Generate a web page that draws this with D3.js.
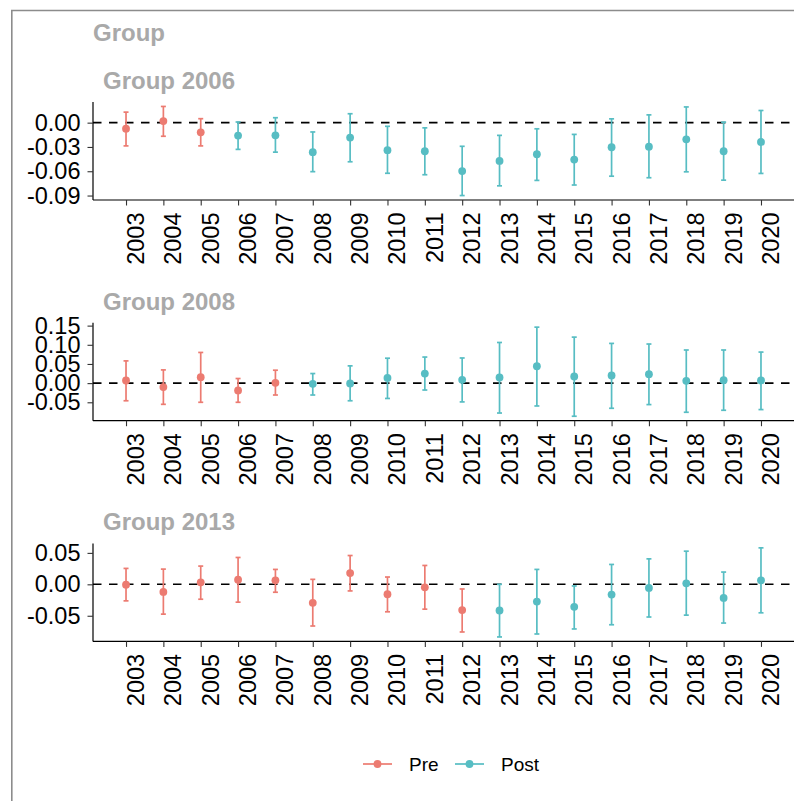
<!DOCTYPE html>
<html>
<head>
<meta charset="utf-8">
<script src="https://cdn.jsdelivr.net/npm/d3@7"></script>
<style>
  html, body { margin: 0; padding: 0; background: #fff; }
  svg { display: block; font-family: "Liberation Sans", Arial, sans-serif; }
</style>
</head>
<body>
<svg id="chart" width="794" height="801"></svg>
<script>
// Event-study estimates by treatment cohort
const years = [2003, 2004, 2005, 2006, 2007, 2008, 2009, 2010, 2011,
               2012, 2013, 2014, 2015, 2016, 2017, 2018, 2019, 2020];
const groups = [2006, 2008, 2013];

const est2006 = [-0.0074, 0.0020, -0.0119, -0.0160, -0.0156, -0.0364, -0.0184, -0.0340, -0.0353,
                 -0.0598, -0.0472, -0.0390, -0.0456, -0.0304, -0.0296, -0.0206, -0.0353, -0.0239];
const lo2006  = [-0.0287, -0.0168, -0.0287, -0.0330, -0.0364, -0.0605, -0.0483, -0.0625, -0.0643,
                 -0.0900, -0.0780, -0.0713, -0.0770, -0.0661, -0.0680, -0.0607, -0.0710, -0.0627];
const hi2006  = [0.0130, 0.0200, 0.0049, 0.0008, 0.0061, -0.0115, 0.0110, -0.0045, -0.0064,
                 -0.0292, -0.0157, -0.0076, -0.0145, 0.0047, 0.0096, 0.0194, 0.0006, 0.0150];

const est2008 = [0.0069, -0.0104, 0.0155, -0.0190, 0.0008, -0.0018, -0.0009, 0.0135, 0.0250,
                 0.0086, 0.0147, 0.0440, 0.0173, 0.0199, 0.0233, 0.0060, 0.0078, 0.0070];
const lo2008  = [-0.0460, -0.0553, -0.0500, -0.0500, -0.0310, -0.0310, -0.0460, -0.0400, -0.0180,
                 -0.0490, -0.0780, -0.0596, -0.0864, -0.0656, -0.0560, -0.0760, -0.0708, -0.0690];
const hi2008  = [0.0580, 0.0345, 0.0800, 0.0120, 0.0337, 0.0250, 0.0450, 0.0650, 0.0680,
                 0.0656, 0.1060, 0.1460, 0.1200, 0.1036, 0.1020, 0.0864, 0.0864, 0.0810];

const est2013 = [-0.0005, -0.0121, 0.0032, 0.0074, 0.0063, -0.0295, 0.0179, -0.0158, -0.0047,
                 -0.0410, -0.0416, -0.0274, -0.0358, -0.0163, -0.0058, 0.0016, -0.0216, 0.0063];
const lo2013  = [-0.0263, -0.0474, -0.0237, -0.0284, -0.0126, -0.0663, -0.0105, -0.0437, -0.0395,
                 -0.0758, -0.0837, -0.0790, -0.0710, -0.0643, -0.0520, -0.0490, -0.0616, -0.0453];
const hi2013  = [0.0253, 0.0242, 0.0290, 0.0427, 0.0237, 0.0079, 0.0458, 0.0116, 0.0300,
                 -0.0074, 0.0000, 0.0237, -0.0026, 0.0316, 0.0405, 0.0527, 0.0195, 0.0580];

const yTicks = [
  [0, -0.03, -0.06, -0.09],
  [-0.05, 0, 0.05, 0.10, 0.15],
  [-0.05, 0, 0.05]
];
const periods = ["Pre", "Post"];

const series = [
  { group: groups[0], est: est2006, lo: lo2006, hi: hi2006 },
  { group: groups[1], est: est2008, lo: lo2008, hi: hi2008 },
  { group: groups[2], est: est2013, lo: lo2013, hi: hi2013 }
];

const svg = d3.select("#chart");
const color = d3.scaleOrdinal().domain(periods).range(["#ec7b71", "#57bdc3"]);
const grey = "#a9a9a9";

// outer frame
svg.append("path")
  .attr("d", "M11.8,801 L11.8,10.5 L794,10.5")
  .attr("fill", "none").attr("stroke", "#8c8c8c").attr("stroke-width", 1.6);

svg.append("text")
  .attr("x", 93).attr("y", 41)
  .attr("fill", grey).attr("font-size", 24).attr("font-weight", "bold")
  .text("Group");

const left = 93, right = 794, panelH = 98;
const x = d3.scalePoint().domain(years).range([left, right]).padding(0.884);
const fmt = v => d3.format(".2f")(v).replace("\u2212", "-");

series.forEach((s, i) => {
  const top = 102 + i * 220.7;
  const bottom = top + panelH;
  const rows = years.map((yr, j) => ({
    year: yr, est: s.est[j], lo: s.lo[j], hi: s.hi[j],
    period: yr < s.group ? "Pre" : "Post"
  }));
  const mn = d3.min(rows, d => d.lo), mx = d3.max(rows, d => d.hi);
  const pad = (mx - mn) * 0.05;
  const y = d3.scaleLinear().domain([mn - pad, mx + pad]).range([bottom, top]);

  const g = svg.append("g");

  g.append("text")
    .attr("x", left + 10).attr("y", top - 13)
    .attr("fill", grey).attr("font-size", 24).attr("font-weight", "bold")
    .text("Group " + s.group);

  // y axis
  const yAxis = g.append("g").attr("transform", `translate(${left},0)`)
    .call(d3.axisLeft(y).tickValues(yTicks[i]).tickFormat(fmt).tickSize(5.5).tickPadding(7));
  yAxis.select(".domain").attr("d", `M0,${top}V${bottom}`).attr("stroke", "#000").attr("stroke-width", 1.2);
  yAxis.selectAll(".tick line").attr("stroke", "#333").attr("stroke-width", 1.1);
  yAxis.selectAll(".tick text").attr("font-size", 23.5).attr("fill", "#000")
    .attr("font-family", "Liberation Sans, Arial, sans-serif");

  // x axis
  const xAxis = g.append("g").attr("transform", `translate(0,${bottom})`)
    .call(d3.axisBottom(x).tickSize(5.5).tickSizeOuter(0));
  xAxis.select(".domain").attr("d", `M${left},0H${right}`).attr("stroke", "#000").attr("stroke-width", 1.2);
  xAxis.selectAll(".tick line").attr("stroke", "#333").attr("stroke-width", 1.1);
  xAxis.selectAll(".tick text")
    .attr("font-size", 23.5).attr("fill", "#000")
    .attr("font-family", "Liberation Sans, Arial, sans-serif")
    .attr("text-anchor", "end")
    .attr("dy", null).attr("y", null)
    .attr("transform", "translate(17.5,12.5) rotate(-90)");

  // reference line at zero
  g.append("line")
    .attr("x1", left).attr("x2", right)
    .attr("y1", y(0)).attr("y2", y(0))
    .attr("stroke", "#000").attr("stroke-width", 1.6).attr("stroke-dasharray", "8.5,7.5");

  // confidence intervals
  const bars = g.selectAll(".ci").data(rows).join("g").attr("class", "ci")
    .attr("stroke", d => color(d.period)).attr("stroke-width", 1.7);
  bars.append("line")
    .attr("x1", d => x(d.year)).attr("x2", d => x(d.year))
    .attr("y1", d => y(d.lo)).attr("y2", d => y(d.hi));
  bars.append("line")
    .attr("x1", d => x(d.year) - 2.5).attr("x2", d => x(d.year) + 2.5)
    .attr("y1", d => y(d.lo)).attr("y2", d => y(d.lo));
  bars.append("line")
    .attr("x1", d => x(d.year) - 2.5).attr("x2", d => x(d.year) + 2.5)
    .attr("y1", d => y(d.hi)).attr("y2", d => y(d.hi));

  // point estimates
  g.selectAll(".pt").data(rows).join("circle").attr("class", "pt")
    .attr("cx", d => x(d.year)).attr("cy", d => y(d.est)).attr("r", 3.9)
    .attr("fill", d => color(d.period));
});

// legend
const legX = d3.scaleOrdinal().domain(periods).range([363, 455]);
const leg = svg.append("g").selectAll("g").data(periods).join("g")
  .attr("transform", d => `translate(${legX(d)},764)`);
leg.append("line").attr("x1", 0).attr("x2", 29).attr("y1", 0).attr("y2", 0)
  .attr("stroke", d => color(d)).attr("stroke-width", 1.7);
leg.append("circle").attr("cx", 14.5).attr("cy", 0).attr("r", 3.9).attr("fill", d => color(d));
leg.append("text").attr("x", 46).attr("y", 7)
  .attr("font-size", 19).attr("fill", "#000").text(d => d);
</script>
</body>
</html>
